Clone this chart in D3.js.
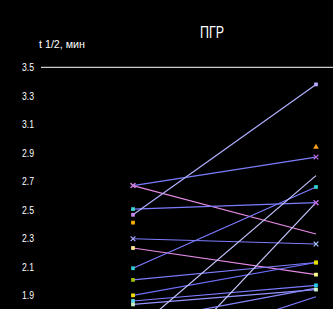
<!DOCTYPE html>
<html>
<head>
<meta charset="utf-8">
<script src="https://cdn.jsdelivr.net/npm/d3@7"></script>
<style>
  html, body { margin: 0; padding: 0; background: #000; }
  svg { display: block; }
</style>
</head>
<body>
<svg id="chart"></svg>
<script>
// Paired values (t1/2, min), before -> after
const stages = ["before", "after"];
const before = [2.67, 2.67, 2.505, 2.465, 2.41, 2.297, 2.232, 2.09, 2.008, 1.90, 1.86, 1.836, 1.64, 1.19, 1.47, 1.71];
const after  = [2.87, 2.33, 2.55, 3.38, 2.94, 2.26, 2.045, 2.66, 2.13, 2.13, 1.97, 1.94, 2.74, 2.55, 1.89, 1.95];
const tickLabels = [3.5, 3.3, 3.1, 2.9, 2.7, 2.5, 2.3, 2.1, 1.9];

// styles per subject (kept apart from the values)
const lineColors = ["#7c7cff", "#e58ae5", "#7c7cff", "#b0b0ff", "none", "#7c7cff", "#e58ae5", "#7c7cff",
                    "#7c7cff", "#6f6fff", "#7c7cff", "#9494ff", "#c4c6ff", "#c4c6ff", "#7c7cff", "#8888ff"];
const leftColors = ["#b46ad8", "#d080d8", "#3ad6d6", "#c48ae8", "#ffb000", "#a8a8ff", "#ffe890", "#30c8d0",
                    "#a0c000", "#f0e000", "#50d8f0", "#c8f0c8", "#c4c6ff", "#c4c6ff", "#7c7cff", "#8888ff"];
const rightColors = ["#b46ad8", "#e58ae5", "#b46ad8", "#b8a8ff", "#ffa020", "#a8c8ff", "#ffff90", "#30d0d0",
                     "#d8e000", "#e8e000", "#20d0f0", "#c8f8c8", "#c4c6ff", "#b46ad8", "#7c7cff", "#8888ff"];
const leftShapes = ["x", "x", "square", "square", "square", "x", "square", "square",
                    "square", "square", "square", "square", "none", "none", "none", "none"];
const rightShapes = ["x", "none", "x", "square", "triangle", "x", "square", "square",
                     "square", "square", "square", "square", "none", "x", "none", "none"];

const svgWidth = 333;
const svgHeight = 309;
const font = "'Liberation Sans', Arial, sans-serif";

const svg = d3.select("#chart")
  .attr("width", svgWidth)
  .attr("height", svgHeight)
  .style("background", "#000");

// scales
const x = d3.scalePoint().domain(stages).range([133, 316]);
const y = d3.scaleLinear().domain([3.5, 1.0]).range([67.3, 67.3 + 2.5 * 142.5]);

// title and axis label (narrowed to match the condensed look)
svg.append("text")
  .attr("x", 200)
  .attr("y", 38)
  .attr("font-family", font)
  .attr("font-size", 17)
  .attr("font-weight", 300)
  .attr("fill", "#fff")
  .attr("textLength", 24)
  .attr("lengthAdjust", "spacingAndGlyphs")
  .text("ПГР");

svg.append("text")
  .attr("x", 39)
  .attr("y", 48)
  .attr("font-family", font)
  .attr("font-size", 11)
  .attr("fill", "#fff")
  .attr("textLength", 46)
  .attr("lengthAdjust", "spacingAndGlyphs")
  .text("t 1/2, мин");

// top border line at 3.5
svg.append("line")
  .attr("x1", 41)
  .attr("x2", svgWidth)
  .attr("y1", y(3.5))
  .attr("y2", y(3.5))
  .attr("stroke", "#fff")
  .attr("stroke-width", 1);

// y axis: labels only
const yAxis = svg.append("g")
  .attr("transform", "translate(36,0)")
  .call(d3.axisLeft(y).tickValues(tickLabels).tickSize(0).tickPadding(2).tickFormat(d3.format(".1f")));
yAxis.select(".domain").remove();
yAxis.selectAll("text")
  .attr("fill", "#fff")
  .attr("font-family", font)
  .attr("font-size", 11)
  .attr("textLength", 12)
  .attr("lengthAdjust", "spacingAndGlyphs");

// lines
const idx = d3.range(before.length);
svg.append("g")
  .selectAll("line")
  .data(idx.filter(i => lineColors[i] !== "none"))
  .enter()
  .append("line")
  .attr("x1", x("before"))
  .attr("y1", i => y(before[i]))
  .attr("x2", x("after"))
  .attr("y2", i => y(after[i]))
  .attr("stroke", i => lineColors[i])
  .attr("stroke-width", 1.2);

// markers
const symbolFor = { x: d3.symbolX, square: d3.symbolSquare, triangle: d3.symbolTriangle };
function drawMarkers(stage, values, shapes, colors) {
  svg.append("g")
    .selectAll("path")
    .data(idx.filter(i => shapes[i] !== "none"))
    .enter()
    .append("path")
    .attr("transform", i => `translate(${x(stage)},${y(values[i])})`)
    .attr("d", i => d3.symbol().type(symbolFor[shapes[i]]).size(shapes[i] === "x" ? 16 : 14)())
    .attr("fill", i => shapes[i] === "x" ? "none" : colors[i])
    .attr("stroke", i => shapes[i] === "x" ? colors[i] : "none")
    .attr("stroke-width", 1.2);
}
drawMarkers("before", before, leftShapes, leftColors);
drawMarkers("after", after, rightShapes, rightColors);
</script>
</body>
</html>
